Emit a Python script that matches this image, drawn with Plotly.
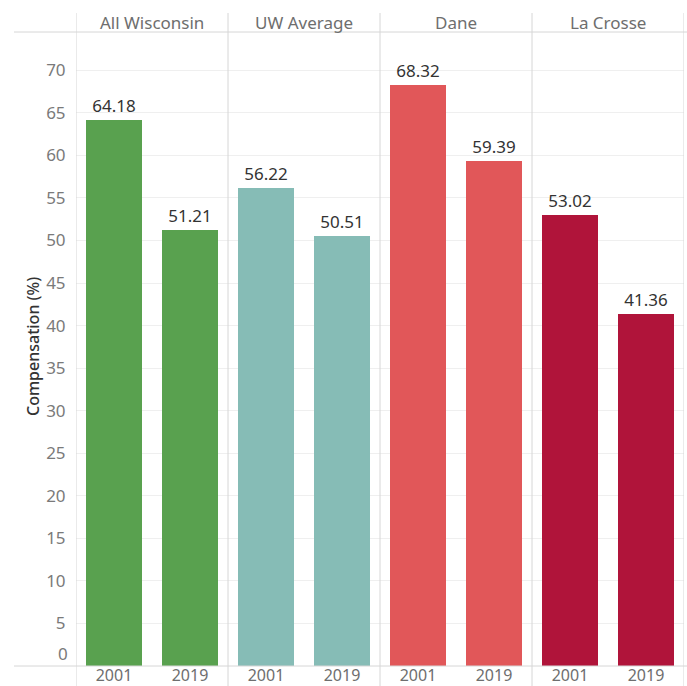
import plotly.graph_objects as go

# Compensation share by area, 2001 vs 2019
areas = ["All Wisconsin", "UW Average", "Dane", "La Crosse"]
years = ["2001", "2019"]
values = {
    "All Wisconsin": [64.18, 51.21],
    "UW Average": [56.22, 50.51],
    "Dane": [68.32, 59.39],
    "La Crosse": [53.02, 41.36],
}
colors = {
    "All Wisconsin": "#59A14F",
    "UW Average": "#86BCB6",
    "Dane": "#E15759",
    "La Crosse": "#B0143A",
}
y_ticks = list(range(5, 75, 5))

FONT = "Noto Sans"
FS = 17
W, H = 687, 686
L, R, T, B = 76, 3, 32, 20
plot_w = W - L - R
plot_h = H - T - B

fig = go.Figure()
tick_pos, tick_text = [], []
for i, area in enumerate(areas):
    xs = [2 * i, 2 * i + 1]
    tick_pos += xs
    tick_text += years
    fig.add_trace(go.Bar(
        x=xs,
        y=values[area],
        width=0.737,
        marker=dict(color=colors[area], line=dict(width=0)),
        text=[f"{v:.2f}" for v in values[area]],
        textposition="outside",
        textfont=dict(family=FONT, size=FS, color="#333333"),
        cliponaxis=False,
        showlegend=False,
        hoverinfo="skip",
    ))

shapes = []
line_col = "#d6d6d6"
# vertical panel separators, spanning header and year rows
for k in range(5):
    shapes.append(dict(
        type="line", xref="x", yref="paper",
        x0=2 * k - 0.5, x1=2 * k - 0.5,
        y0=-B / plot_h - 0.01, y1=(H - 13 - B) / plot_h,
        line=dict(color=line_col, width=1),
    ))
# header underline and baseline, extending into the left margin
for yp in (1.0, 0.0):
    shapes.append(dict(
        type="line", xref="paper", yref="paper",
        x0=(14 - L) / plot_w, x1=(W - L) / plot_w,
        y0=yp, y1=yp,
        line=dict(color=line_col, width=1),
    ))

annotations = []
for i, area in enumerate(areas):
    annotations.append(dict(
        x=2 * i + 0.5, xref="x",
        y=(H - B - 22) / plot_h, yref="paper",
        text=area, showarrow=False,
        xanchor="center", yanchor="middle",
        font=dict(family=FONT, size=FS, color="#6e6e6e"),
    ))
# zero label sits just above the baseline
annotations.append(dict(
    x=0, xref="paper", y=0, yref="paper",
    text="0", showarrow=False,
    xanchor="right", yanchor="middle", xshift=-6, yshift=13,
    font=dict(family=FONT, size=FS, color="#7a7a7a"),
))
annotations.append(dict(
    x=(33 - L) / plot_w, xref="paper",
    y=(H - B - 347) / plot_h, yref="paper",
    text="Compensation (%)", textangle=-90, showarrow=False,
    xanchor="center", yanchor="middle",
    font=dict(family=FONT, size=16, color="#333333", weight=500),
))

fig.update_layout(
    width=W, height=H,
    margin=dict(l=L, r=R, t=T, b=B, autoexpand=False),
    paper_bgcolor="white", plot_bgcolor="white",
    shapes=shapes, annotations=annotations,
    bargap=0,
    xaxis=dict(
        range=[-0.5, 7.5],
        tickmode="array", tickvals=tick_pos, ticktext=tick_text,
        showgrid=False, zeroline=False, showline=False,
        ticks="", ticklabelstandoff=-2,
        tickfont=dict(family=FONT, size=16, color="#6e6e6e"),
        automargin=False, fixedrange=True,
    ),
    yaxis=dict(
        range=[0, 74.5],
        tickmode="array", tickvals=y_ticks,
        showgrid=True, gridcolor="#efefef", gridwidth=1,
        zeroline=False, showline=False,
        ticks="outside", ticklen=6, tickcolor="rgba(0,0,0,0)",
        tickfont=dict(family=FONT, size=FS, color="#7a7a7a"),
        automargin=False, fixedrange=True,
    ),
)

fig.write_html("out.html")
